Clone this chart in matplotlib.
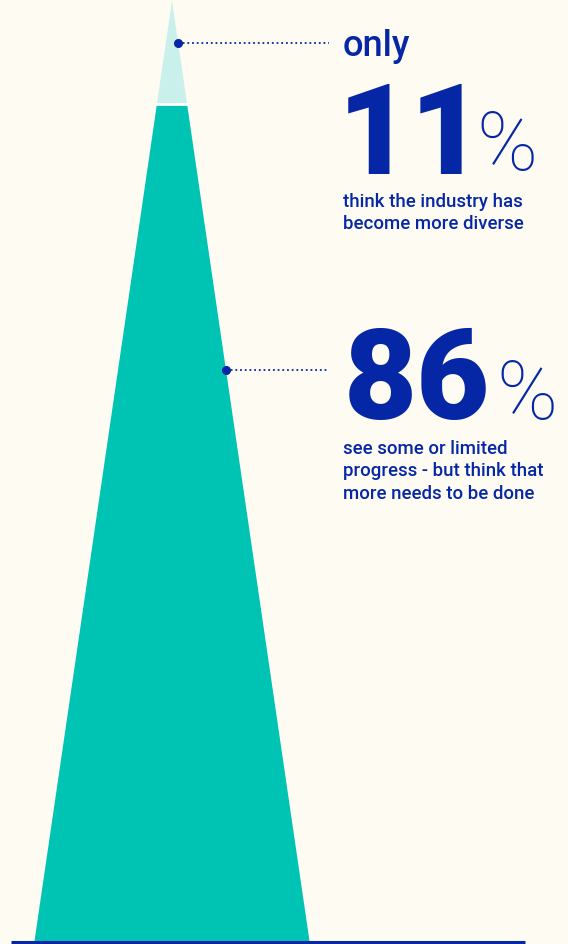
import matplotlib.pyplot as plt
from matplotlib.patches import Polygon

# data
shares = [11, 86]
big_labels = ["11", "86"]
prefixes = ["only", ""]
captions = ["think the industry has\nbecome more diverse",
            "see some or limited\nprogress - but think that\nmore needs to be done"]

BG = "#FEFBF3"
BLUE = "#0527A6"
TEAL = "#00C4B3"
LIGHT = "#C9F0EA"

fig = plt.figure(figsize=(5.68, 9.44), dpi=100, facecolor=BG)
ax = fig.add_axes([0, 0, 1, 1])
ax.set_xlim(0, 568)
ax.set_ylim(944, 0)
ax.axis("off")
ax.set_facecolor(BG)

# triangle geometry (pixel layout)
apex_x, apex_y = 172, 1
base_y, half_w = 941, 137.5
height = base_y - apex_y


def edge_x(y):
    w = half_w * (y - apex_y) / height
    return apex_x - w, apex_x + w


split = apex_y + height * shares[0] / 100
l, r = edge_x(split)
bl, br = edge_x(base_y)
ax.add_patch(Polygon([(apex_x, apex_y), (r, split), (l, split)],
                     closed=True, facecolor=LIGHT, edgecolor="none"))
ax.add_patch(Polygon([(l, split), (r, split), (br, base_y), (bl, base_y)],
                     closed=True, facecolor=TEAL, edgecolor="none"))
ax.plot([l - 1, r + 1], [split, split], color="white", lw=2, solid_capstyle="butt")

# baseline
ax.plot([11, 525], [942, 942], color=BLUE, lw=2.2, solid_capstyle="butt")

# leader lines with dots
for y_dot in [43, 370]:
    x_dot = edge_x(y_dot)[1]
    ax.plot([x_dot, 329], [y_dot, y_dot], color=BLUE, lw=1.3, ls=(0, (1, 1.6)))
    ax.plot(x_dot, y_dot, "o", color=BLUE, ms=5.5)

font = "Roboto"
cap_kw = dict(fontsize=13.4, fontweight="medium", color=BLUE, family=font,
              va="top", ha="left", linespacing=1.32)

# 11% block
ax.text(343, 56, prefixes[0], fontsize=26, fontweight="medium", color=BLUE,
        family=font, va="baseline", ha="left")
ax.text(338, 174, big_labels[0], fontsize=91, fontweight="heavy", color=BLUE,
        family=font, va="baseline", ha="left")
ax.text(476, 170, "%", fontsize=59, fontweight="light", color=BLUE,
        family=font, va="baseline", ha="left")
ax.text(343, 193, captions[0], **cap_kw)

# 86% block
ax.text(344, 419, big_labels[1], fontsize=91, fontweight="heavy", color=BLUE,
        family=font, va="baseline", ha="left")
ax.text(496, 419, "%", fontsize=59, fontweight="light", color=BLUE,
        family=font, va="baseline", ha="left")
ax.text(343, 440, captions[1], **cap_kw)

fig.savefig("out.png", dpi=100, facecolor=BG)
